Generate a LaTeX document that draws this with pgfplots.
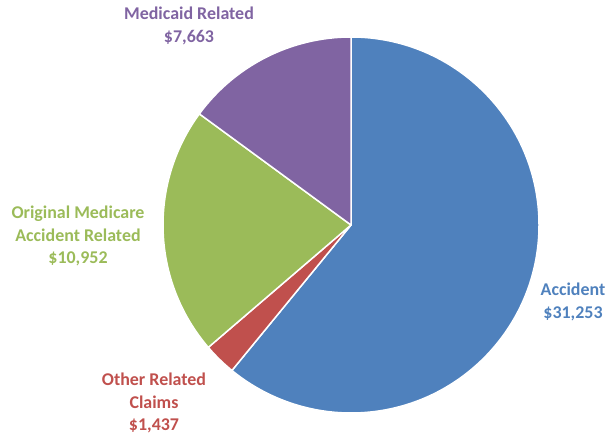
\documentclass[border=0pt]{standalone}
\usepackage{fontspec}
\setmainfont{Carlito}
\usepackage{pgfplots}
\usepackage{pgfplotstable}
\pgfplotsset{compat=1.18}

\definecolor{pie0}{HTML}{4F81BD}
\definecolor{pie1}{HTML}{C0504D}
\definecolor{pie2}{HTML}{9BBB59}
\definecolor{pie3}{HTML}{8064A2}

\tikzset{lbl/.style={align=center, inner sep=0pt, font=\bfseries\fontsize{18}{22.5}\selectfont}}

% claims by category, clockwise from the top
\pgfplotstableread{
value
31253
1437
10952
7663
}\piedata

% total and slice angles, worked out with the fpu (the sum is past TeX's limit)
% done in the preamble so no stray spaces end up in the page box
\begingroup
\pgfkeys{/pgf/fpu=true, /pgf/fpu/output format=fixed}
\def\pietotal{0}
\pgfplotsforeachungrouped \i in {0,1,2,3}{%
  \pgfplotstablegetelem{\i}{value}\of\piedata
  \pgfmathparse{\pietotal+\pgfplotsretval}%
  \let\pietotal\pgfmathresult
}
\def\pieangle{90}
\pgfplotsforeachungrouped \i in {0,1,2,3}{%
  \pgfplotstablegetelem{\i}{value}\of\piedata
  \pgfmathparse{\pieangle-360*\pgfplotsretval/\pietotal}%
  \let\pienext\pgfmathresult
  \expandafter\xdef\csname pieA\i\endcsname{\pieangle}%
  \expandafter\xdef\csname pieB\i\endcsname{\pienext}%
  \let\pieangle\pienext
}
\endgroup

\begin{document}
\begin{tikzpicture}
\begin{axis}[
  x=1bp, y=1bp,
  xmin=0, xmax=610, ymin=0, ymax=440,
  hide axis, clip=false,
]
\coordinate (bl) at (axis cs:0,0);
\coordinate (tr) at (axis cs:610,440);
\pgfplotsinvokeforeach{0,1,2,3}{
  \fill[pie#1, draw=white, line width=1.5bp, line join=round]
    (axis cs:351,215) -- ++(\csname pieA#1\endcsname:188bp)
    arc[start angle=\csname pieA#1\endcsname, end angle=\csname pieB#1\endcsname, radius=188bp] -- cycle;
}
\node[lbl, text=pie3] at (axis cs:189,414) {Medicaid Related\\\$7,663};
\node[lbl, text=pie2] at (axis cs:78,204) {Original Medicare\\Accident Related\\\$10,952};
\node[lbl, text=pie1] at (axis cs:154,37) {Other Related\\Claims\\\$1,437};
\node[lbl, text=pie0] at (axis cs:573,138) {Accident\\\$31,253};
\end{axis}
\pgfresetboundingbox
\path[use as bounding box] (bl) rectangle (tr);
\end{tikzpicture}
\end{document}
